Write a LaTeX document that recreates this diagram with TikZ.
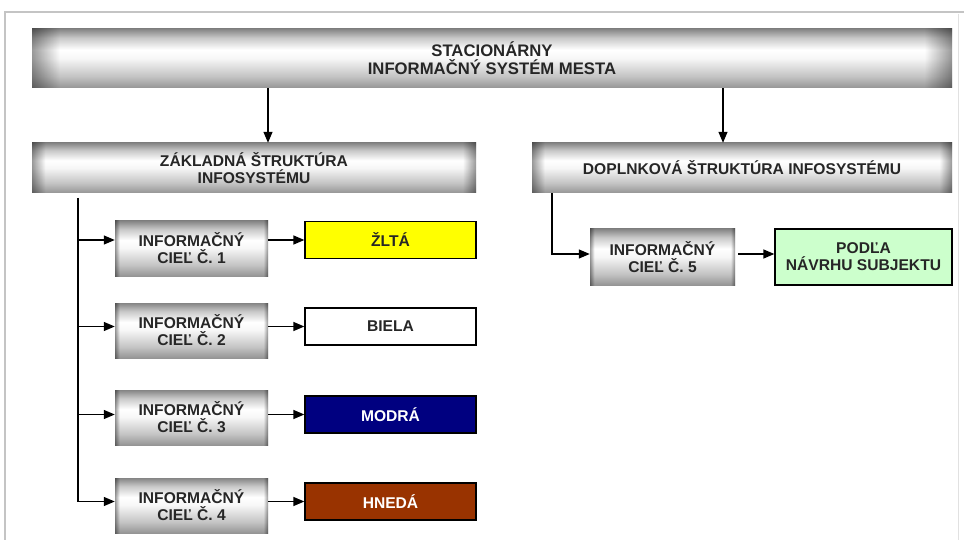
\documentclass[tikz,border=0pt]{standalone}
\usepackage{fontspec}
\setmainfont{Liberation Sans}
\usetikzlibrary{arrows.meta,calc}
\definecolor{mvA}{HTML}{959595}
\definecolor{mvB}{HTML}{C4C4C4}
\definecolor{mvC}{HTML}{C8C8C8}
\definecolor{mvD}{HTML}{858585}
\definecolor{mvW}{HTML}{F6F6F6}
\definecolor{mhE}{HTML}{9A9A9A}
\definecolor{txt}{HTML}{262626}
\definecolor{yel}{HTML}{FFFF00}
\definecolor{navy}{HTML}{000080}
\definecolor{brown}{HTML}{993300}
\definecolor{lgreen}{HTML}{CCFFCC}
\definecolor{frame}{HTML}{C4C4C4}
\pgfdeclareverticalshading{metalv}{100bp}{color(0bp)=(mvA); color(25bp)=(mvA); color(35bp)=(mvB); color(50bp)=(mvW); color(57.5bp)=(white); color(67.5bp)=(mvC); color(75bp)=(mvD); color(100bp)=(mvD)}
\pgfdeclarehorizontalshading{metalh}{100bp}{color(0bp)=(mhE); color(25bp)=(mhE); color(26.5bp)=(white); color(73.5bp)=(white); color(75bp)=(mhE); color(100bp)=(mhE)}
\newcommand{\topfont}{\bfseries\fontsize{16.7}{18}\selectfont}
\newcommand{\boxfont}{\bfseries\fontsize{15.6}{17}\selectfont}
\begin{document}
\begin{tikzpicture}[x=1pt,y=-1pt,
  metal/.style={shading=metalv, inner sep=0pt, align=center, text=txt, font=\boxfont,
    path picture={\begin{scope}[blend mode=multiply]
      \shade[shading=metalh] (path picture bounding box.south west) rectangle (path picture bounding box.north east);
      \end{scope}}},
  cbox/.style={draw=black, line width=1.3pt, inner sep=0pt, align=center, font=\boxfont,
    minimum width=171pt, minimum height=37pt},
  conn/.style={draw=black, line width=1.3pt},
  arr/.style={conn, -{Triangle[length=11pt,width=9pt]}}]
\useasboundingbox (0,0) rectangle (964,540);
\fill[white] (0,0) rectangle (964,540);
% outer frame
\draw[frame, line width=1.2pt] (5,540) -- (5,12) -- (964,12);
\draw[frame!50, line width=1pt] (958,14) -- (958,540);
% boxes
\node[metal, font=\topfont, minimum width=920pt, minimum height=59pt] (top) at (492,58.5) {STACIONÁRNY\\INFORMAČNÝ SYSTÉM MESTA};
\node[metal, minimum width=444pt, minimum height=50pt] (zak) at (254,168) {ZÁKLADNÁ ŠTRUKTÚRA\\INFOSYSTÉMU};
\node[metal, minimum width=420pt, minimum height=50pt] (dop) at (742,168) {DOPLNKOVÁ ŠTRUKTÚRA INFOSYSTÉMU};
\node[metal, minimum width=153pt, minimum height=55pt] (c1) at (191.5,248.5) {INFORMAČNÝ\\CIEĽ Č. 1};
\node[metal, minimum width=153pt, minimum height=55pt] (c2) at (191.5,330.5) {INFORMAČNÝ\\CIEĽ Č. 2};
\node[metal, minimum width=153pt, minimum height=55pt] (c3) at (191.5,417.5) {INFORMAČNÝ\\CIEĽ Č. 3};
\node[metal, minimum width=153pt, minimum height=55pt] (c4) at (191.5,505.5) {INFORMAČNÝ\\CIEĽ Č. 4};
\node[metal, minimum width=145pt, minimum height=56pt] (c5) at (662.5,257) {INFORMAČNÝ\\CIEĽ Č. 5};
\node[cbox, fill=yel, text=txt] (zlta) at (390.5,240) {ŽLTÁ};
\node[cbox, fill=white, text=txt] (biela) at (390.5,326.5) {BIELA};
\node[cbox, fill=navy, text=white] (modra) at (390.5,414.5) {MODRÁ};
\node[cbox, fill=brown, text=white] (hneda) at (390.5,501.5) {HNEDÁ};
\node[cbox, fill=lgreen, text=txt, minimum width=177pt, minimum height=56pt] (navrh) at (863.5,257) {PODĽA\\NÁVRHU SUBJEKTU};
% helper coordinates
\coordinate (ta) at (268,0);
\coordinate (tb) at (723,0);
\coordinate (trtop) at (78,198);
\coordinate (rtop) at (552,0);
\coordinate (rlev) at (0,254);
% connectors
\draw[arr] (top.south -| ta) -- (zak.north -| ta);
\draw[arr] (top.south -| tb) -- (dop.north -| tb);
\draw[conn] (trtop) -- (trtop |- hneda);
\draw[arr] (trtop |- zlta) -- (c1.west |- zlta);
\draw[arr] (trtop |- biela) -- (c2.west |- biela);
\draw[arr] (trtop |- modra) -- (c3.west |- modra);
\draw[arr] (trtop |- hneda) -- (c4.west |- hneda);
\draw[arr] (c1.east |- zlta) -- (zlta.west);
\draw[arr] (c2.east |- biela) -- (biela.west);
\draw[arr] (c3.east |- modra) -- (modra.west);
\draw[arr] (c4.east |- hneda) -- (hneda.west);
\draw[arr] (dop.south -| rtop) -- (rtop |- rlev) -- (c5.west |- rlev);
\draw[arr] ($(c5.east |- rlev)+(3,0)$) -- (navrh.west |- rlev);
\end{tikzpicture}
\end{document}
